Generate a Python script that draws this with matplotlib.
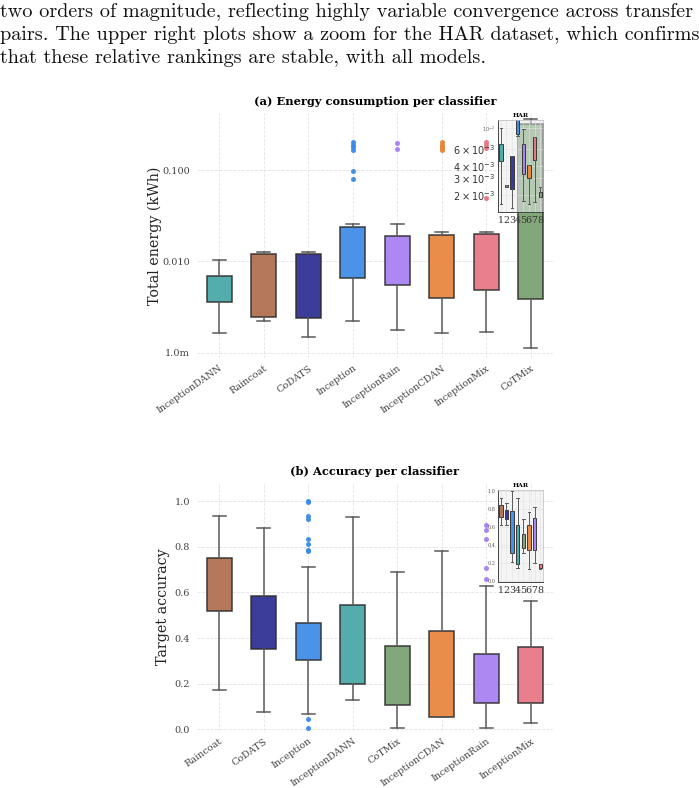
import matplotlib.pyplot as plt
from matplotlib.ticker import NullLocator

# --- data ---
models_a = ['InceptionDANN', 'Raincoat', 'CoDATS', 'Inception', 'InceptionRain',
            'InceptionCDAN', 'InceptionMix', 'CoTMix']
colors_a = ['#45a6a6', '#b06c4c', '#2b2b92', '#3a8ae8', '#a67ef2', '#e8843a', '#e87482', '#76a070']
energy_lo = [0.00165, 0.00221, 0.00150, 0.00221, 0.00178, 0.00165, 0.00171, 0.00113]
energy_q1 = [0.00360, 0.00245, 0.00241, 0.00653, 0.00547, 0.00395, 0.00486, 0.00390]
energy_q3 = [0.00686, 0.0121, 0.0121, 0.0241, 0.0191, 0.0194, 0.0200, 0.315]
energy_hi = [0.0103, 0.01254, 0.01274, 0.0260, 0.0260, 0.0212, 0.0212, 0.36]
energy_fl = [[], [], [], [0.200, 0.190, 0.177, 0.165, 0.0984, 0.0804], [0.197, 0.169],
             [0.200, 0.190, 0.181, 0.172, 0.165], [0.200, 0.188, 0.176, 0.0495], []]

# HAR zoom, same model order
har_e_lo = [0.00163, 0.00240, 0.00146, 0.0082, 0.00175, 0.00163, 0.00168, 0.00190]
har_e_q1 = [0.00453, 0.00243, 0.00232, 0.0086, 0.0033, 0.00304, 0.00464, 0.00191]
har_e_q3 = [0.00676, 0.00252, 0.0051, 0.0125, 0.0068, 0.00412, 0.0081, 0.00214]
har_e_hi = [0.0100, 0.00254, 0.0051, 0.0130, 0.0098, 0.00412, 0.0081, 0.00245]

models_b = ['Raincoat', 'CoDATS', 'Inception', 'InceptionDANN', 'CoTMix',
            'InceptionCDAN', 'InceptionRain', 'InceptionMix']
colors_b = ['#b06c4c', '#2b2b92', '#3a8ae8', '#45a6a6', '#76a070', '#e8843a', '#a67ef2', '#e87482']
acc_lo = [0.173, 0.075, 0.067, 0.130, 0.004, 0.054, 0.004, 0.026]
acc_q1 = [0.517, 0.351, 0.303, 0.200, 0.108, 0.054, 0.117, 0.114]
acc_q3 = [0.750, 0.584, 0.466, 0.545, 0.363, 0.429, 0.328, 0.362]
acc_hi = [0.934, 0.883, 0.712, 0.931, 0.690, 0.780, 0.627, 0.564]
acc_fl = [[], [], [1.0, 0.996, 0.934, 0.922, 0.836, 0.814, 0.788, 0.782, 0.044, 0.004], [], [], [],
          [0.894, 0.873, 0.836, 0.707, 0.660], []]

har_a_lo = [0.620, 0.627, 0.207, 0.140, 0.317, 0.129, 0.196, 0.133]
har_a_q1 = [0.712, 0.686, 0.317, 0.192, 0.369, 0.340, 0.340, 0.148]
har_a_q3 = [0.849, 0.793, 0.775, 0.627, 0.517, 0.627, 0.701, 0.185]
har_a_hi = [0.923, 0.867, 1.000, 0.923, 0.686, 0.768, 0.823, 0.190]

paragraph = ['two orders of magnitude, reflecting highly variable convergence across transfer',
             'pairs. The upper right plots show a zoom for the HAR dataset, which confirms',
             'that these relative rankings are stable, with all models.']

plt.rcParams['font.family'] = 'DejaVu Serif'


def make_stats(lo, q1, q3, hi, fl=None):
    out = []
    for i in range(len(lo)):
        # medians are not drawn in the reference
        out.append(dict(med=q1[i], q1=q1[i], q3=q3[i], whislo=lo[i], whishi=hi[i],
                        fliers=fl[i] if fl else []))
    return out


def draw_boxes(ax, st, cols, pos, width, capw, lw, ms):
    res = ax.bxp(st, positions=pos, widths=width, capwidths=capw, patch_artist=True,
                 showfliers=True,
                 boxprops=dict(edgecolor='#2e2e2e', linewidth=lw),
                 whiskerprops=dict(color='#5a5a5a', linewidth=lw),
                 capprops=dict(color='#5a5a5a', linewidth=lw),
                 medianprops=dict(linewidth=0),
                 flierprops=dict(marker='o', markersize=ms, markeredgewidth=0))
    for patch, c in zip(res['boxes'], cols):
        patch.set_facecolor(c)
        patch.set_alpha(0.92)
        patch.set_edgecolor('#2e2e2e')
    for fl, c in zip(res['fliers'], cols):
        fl.set_markerfacecolor(c)
        fl.set_alpha(0.95)


def style_main(ax):
    for s in ax.spines.values():
        s.set_visible(False)
    ax.grid(True, color='#e4e4e4', linestyle='--', linewidth=0.6)
    ax.set_axisbelow(True)
    ax.tick_params(length=0, labelsize=7, pad=5, colors='#444444')
    ax.tick_params(axis='x', pad=4)


def style_inset(ax):
    ax.set_facecolor((0.92, 0.92, 0.92, 0.5))
    ax.set_xlim(0.5, 8.5)
    ax.set_xticks(range(1, 9), [str(k) for k in range(1, 9)])
    ax.tick_params(axis='x', labelsize=6.8, length=0, pad=3, colors='#333333')
    ax.set_title('HAR', fontsize=4.5, fontweight='bold', pad=2)
    for k in ['top', 'right']:
        ax.spines[k].set_color('#bbbbbb')
        ax.spines[k].set_linewidth(0.5)
    for k in ['left', 'bottom']:
        ax.spines[k].set_color('#444444')
        ax.spines[k].set_linewidth(0.7)


fig = plt.figure(figsize=(6.99, 7.88), dpi=100)

ytop = 1 - 12 / 788
for i, line in enumerate(paragraph):
    fig.text(0.0, ytop - i * 23 / 788, line, family='cmr10', fontsize=14.55,
             va='center', ha='left', color='#111111')

# ---------------- (a) energy ----------------
ax1 = fig.add_axes([197 / 699, 1 - 358 / 788, 356 / 699, 245 / 788])
style_main(ax1)
ax1.set_yscale('log')
draw_boxes(ax1, make_stats(energy_lo, energy_q1, energy_q3, energy_hi, energy_fl),
           colors_a, range(8), 0.56, 0.3, 1.1, 3.6)
ax1.set_ylim(0.00088, 0.42)
ax1.set_xlim(-0.5, 7.5)
ax1.set_yticks([0.001, 0.01, 0.1], ['1.0m', '0.010', '0.100'])
ax1.yaxis.set_minor_locator(NullLocator())
ax1.set_xticks(range(8), models_a, rotation=35, ha='right', rotation_mode='anchor', fontsize=6.9)
ax1.set_ylabel('Total energy (kWh)', fontsize=10.3, labelpad=0, color='#222222')
ax1.set_title('(a) Energy consumption per classifier', fontsize=8.2, fontweight='bold', pad=6)

in1 = ax1.inset_axes([498 / 699, 1 - 212 / 788, 45 / 699, 92 / 788], transform=fig.transFigure)
in1.set_yscale('log')
draw_boxes(in1, make_stats(har_e_lo, har_e_q1, har_e_q3, har_e_hi), colors_a,
           range(1, 9), 0.6, 0.45, 0.7, 2)
style_inset(in1)
in1.set_ylim(0.00133, 0.0121)
in1.set_yticks([0.01], ['$10^{-2}$'])
in1.set_yticks([0.002, 0.003, 0.004, 0.006],
               ['$2\\times10^{-3}$', '$3\\times10^{-3}$', '$4\\times10^{-3}$', '$6\\times10^{-3}$'],
               minor=True)
in1.tick_params(axis='y', which='major', labelsize=3.5, length=0, pad=2, colors='#666666')
in1.tick_params(axis='y', which='minor', labelsize=7, length=0, pad=2, colors='#333333')
in1.grid(True, which='both', color='#e2e2e2', linewidth=0.4)

# ---------------- (b) accuracy ----------------
ax2 = fig.add_axes([197 / 699, 1 - 731 / 788, 356 / 699, 248 / 788])
style_main(ax2)
draw_boxes(ax2, make_stats(acc_lo, acc_q1, acc_q3, acc_hi, acc_fl),
           colors_b, range(8), 0.56, 0.3, 1.1, 3.6)
ax2.set_ylim(-0.008, 1.08)
ax2.set_xlim(-0.5, 7.5)
ax2.set_yticks([0, 0.2, 0.4, 0.6, 0.8, 1.0], ['0.0', '0.2', '0.4', '0.6', '0.8', '1.0'])
ax2.set_xticks(range(8), models_b, rotation=35, ha='right', rotation_mode='anchor', fontsize=6.9)
ax2.set_ylabel('Target accuracy', fontsize=10.3, labelpad=3, color='#222222')
ax2.set_title('(b) Accuracy per classifier', fontsize=8.2, fontweight='bold', pad=6)

in2 = ax2.inset_axes([498 / 699, 1 - 582 / 788, 45 / 699, 92 / 788], transform=fig.transFigure)
draw_boxes(in2, make_stats(har_a_lo, har_a_q1, har_a_q3, har_a_hi), colors_b,
           range(1, 9), 0.6, 0.45, 0.7, 2)
style_inset(in2)
in2.set_ylim(-0.01, 1.01)
in2.set_yticks([0, 0.2, 0.4, 0.6, 0.8, 1.0], ['0.0', '0.2', '0.4', '0.6', '0.8', '1.0'])
in2.tick_params(axis='y', labelsize=3.5, length=0, pad=2, colors='#555555')
in2.grid(True, color='#e2e2e2', linewidth=0.4)

fig.savefig('out.png', dpi=100)
